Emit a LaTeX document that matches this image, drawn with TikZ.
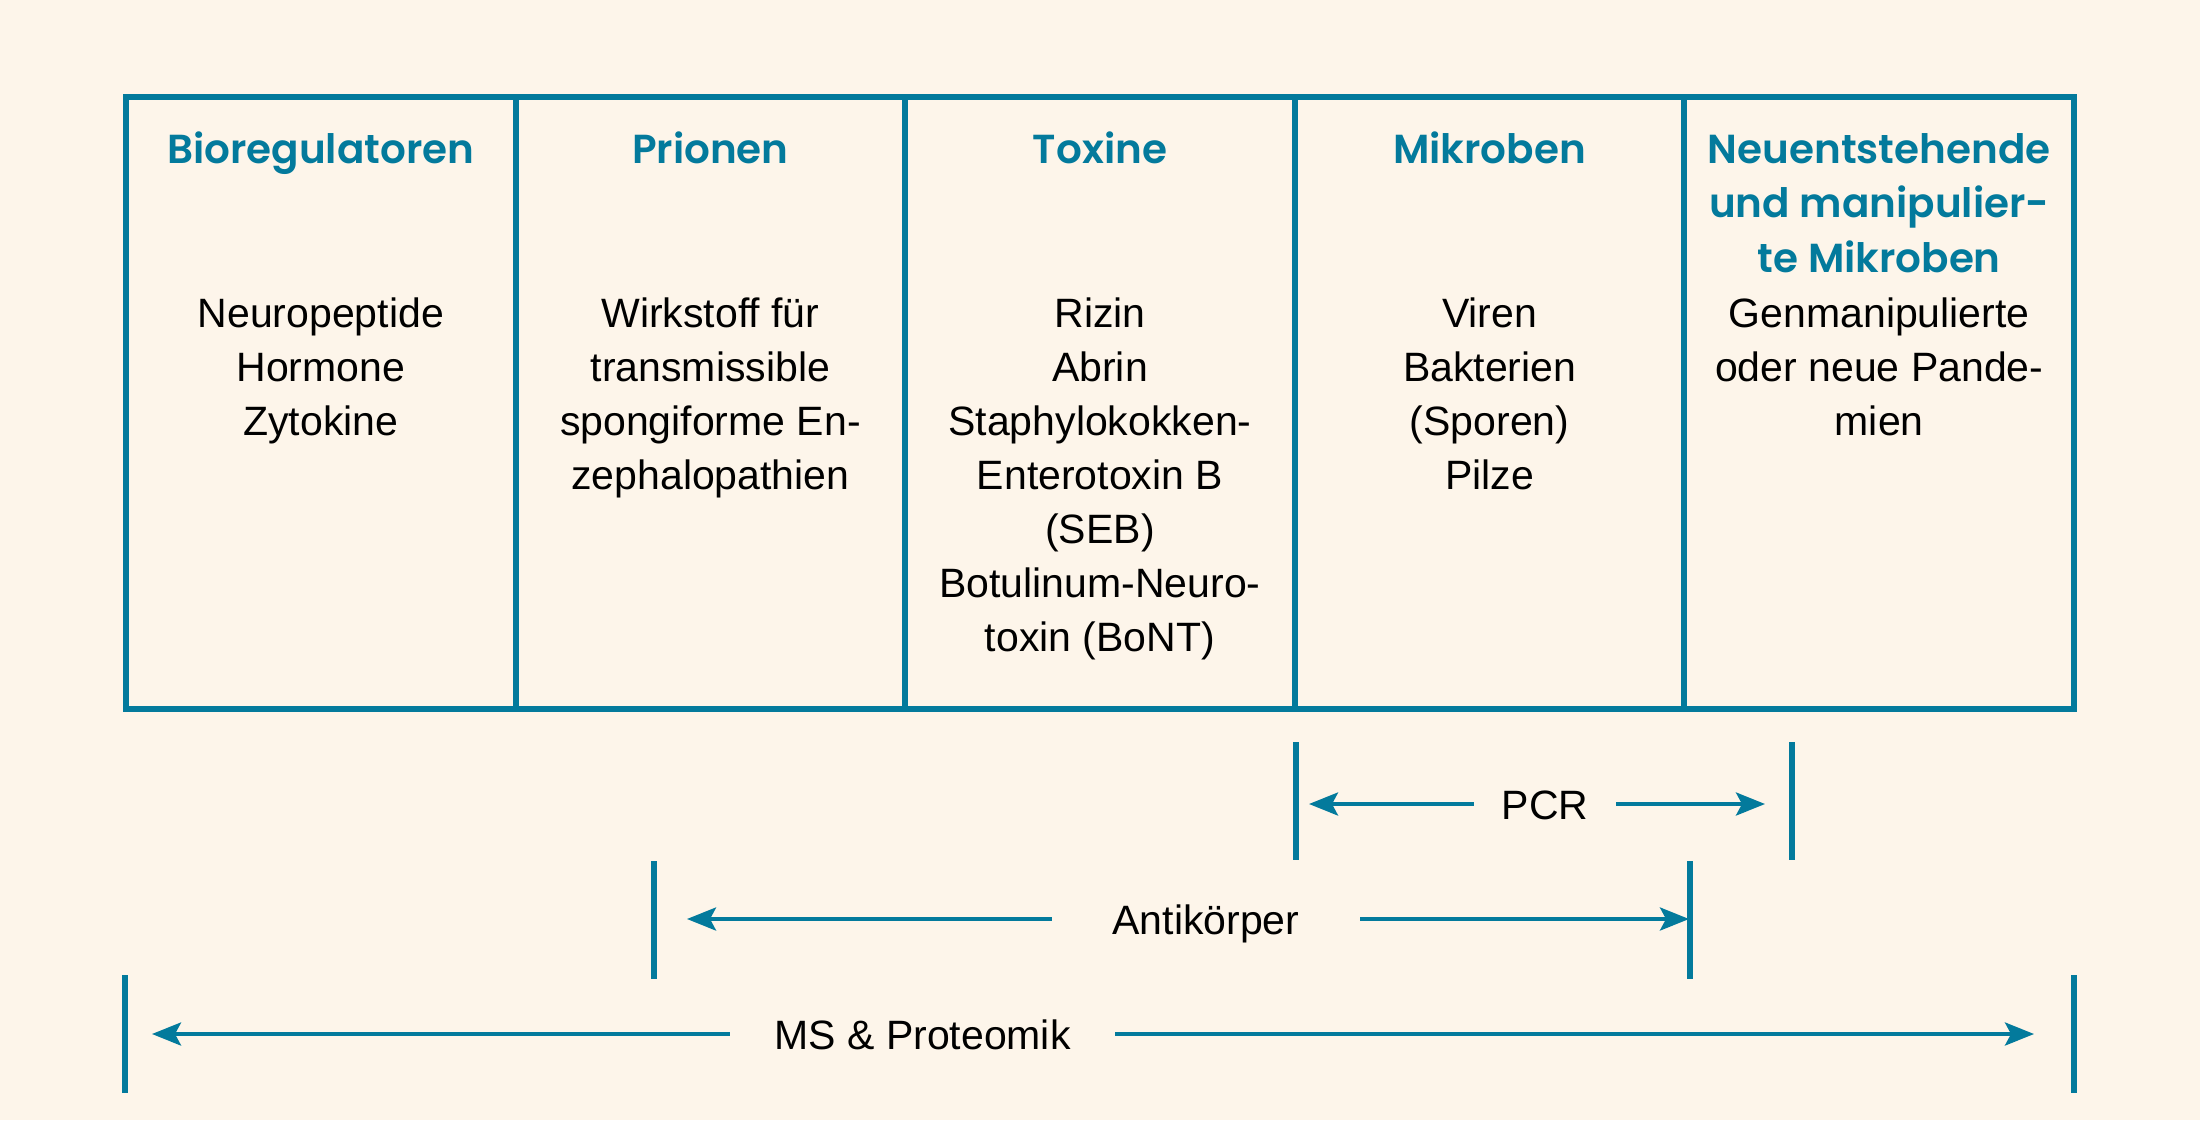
\documentclass[tikz,border=0pt]{standalone}
\usepackage{fontspec}
\setmainfont{Liberation Sans}
\newfontfamily\titlefont{Poppins SemiBold}
\usetikzlibrary{arrows.meta}
\definecolor{bgc}{HTML}{FDF5EA}
\definecolor{tealc}{HTML}{037A9C}
\begin{document}
\begin{tikzpicture}[x=1pt,y=-1pt,
  frame/.style={draw=tealc, line width=6pt},
  coltitle/.style={font=\titlefont\fontsize{40.5}{54.5}\selectfont, text=tealc, align=center, anchor=north, inner sep=0pt},
  colbody/.style={font=\fontsize{41}{54}\selectfont, align=center, anchor=north, inner sep=0pt},
  bar/.style={draw=tealc, line width=6pt},
  arr/.style={draw=tealc, line width=4pt, -{Stealth[length=29pt,width=23pt,inset=6pt]}},
  lab/.style={font=\fontsize{41}{54}\selectfont, inner sep=0pt, text height=30pt, text depth=0pt, anchor=center}
]
\fill[bgc] (0,0) rectangle (2200,1120);
\useasboundingbox (0,0) rectangle (2200,1120);

% table
\draw[frame] (126,97) rectangle (2074,709);
\foreach \x in {515.6,905.2,1294.8,1684.4} \draw[frame] (\x,97) -- (\x,709);

% titles
\node[coltitle] (t1) at (320.8,128) {\rule{0pt}{35pt}Bioregulatoren};
\node[coltitle] (t2) at (710.4,128) {\rule{0pt}{35pt}Prionen};
\node[coltitle] (t3) at (1100,128) {\rule{0pt}{35pt}Toxine};
\node[coltitle] (t4) at (1489.6,128) {\rule{0pt}{35pt}Mikroben};
\node[coltitle] (t5) at (1879.2,128) {\rule{0pt}{35pt}Neuentstehende\\und manipulier-\\te Mikroben};

% bodies
\node[colbody] (b1) at (320.8,292) {\rule{0pt}{35pt}Neuropeptide\\Hormone\\Zytokine};
\node[colbody] (b2) at (710.4,292) {\rule{0pt}{35pt}Wirkstoff für\\transmissible\\spongiforme En-\\zephalopathien};
\node[colbody] (b3) at (1100,292) {\rule{0pt}{35pt}Rizin\\Abrin\\Staphylokokken-\\Enterotoxin B\\(SEB)\\Botulinum-Neuro-\\toxin (BoNT)};
\node[colbody] (b4) at (1489.6,292) {\rule{0pt}{35pt}Viren\\Bakterien\\(Sporen)\\Pilze};
\node[colbody] (b5) at (1879.2,292) {\rule{0pt}{35pt}Genmanipulierte\\oder neue Pande-\\mien};

% PCR
\coordinate (pcrLa) at (1296,742); \coordinate (pcrLb) at (1296,860);
\coordinate (pcrRa) at (1792,742); \coordinate (pcrRb) at (1792,860);
\draw[bar] (pcrLa) -- (pcrLb);
\draw[bar] (pcrRa) -- (pcrRb);
\node[lab, minimum width=142pt] (pcr) at (1545,804) {PCR};
\coordinate (pcrTL) at (1309,804); \coordinate (pcrTR) at (1765,804);
\draw[arr] (pcr.west) -- (pcrTL);
\draw[arr] (pcr.east) -- (pcrTR);

% Antikoerper
\coordinate (akLa) at (654,861); \coordinate (akLb) at (654,979);
\coordinate (akRa) at (1690,861); \coordinate (akRb) at (1690,979);
\draw[bar] (akLa) -- (akLb);
\draw[bar] (akRa) -- (akRb);
\node[lab, minimum width=308pt] (ak) at (1206,919) {Antikörper};
\coordinate (akTL) at (687,919); \coordinate (akTR) at (1689,919);
\draw[arr] (ak.west) -- (akTL);
\draw[arr] (ak.east) -- (akTR);

% MS
\coordinate (msLa) at (125,975); \coordinate (msLb) at (125,1093);
\coordinate (msRa) at (2074,975); \coordinate (msRb) at (2074,1093);
\draw[bar] (msLa) -- (msLb);
\draw[bar] (msRa) -- (msRb);
\node[lab, minimum width=385pt] (ms) at (922.5,1034) {MS \& Proteomik};
\coordinate (msTL) at (152,1034); \coordinate (msTR) at (2034,1034);
\draw[arr] (ms.west) -- (msTL);
\draw[arr] (ms.east) -- (msTR);
\end{tikzpicture}
\end{document}
